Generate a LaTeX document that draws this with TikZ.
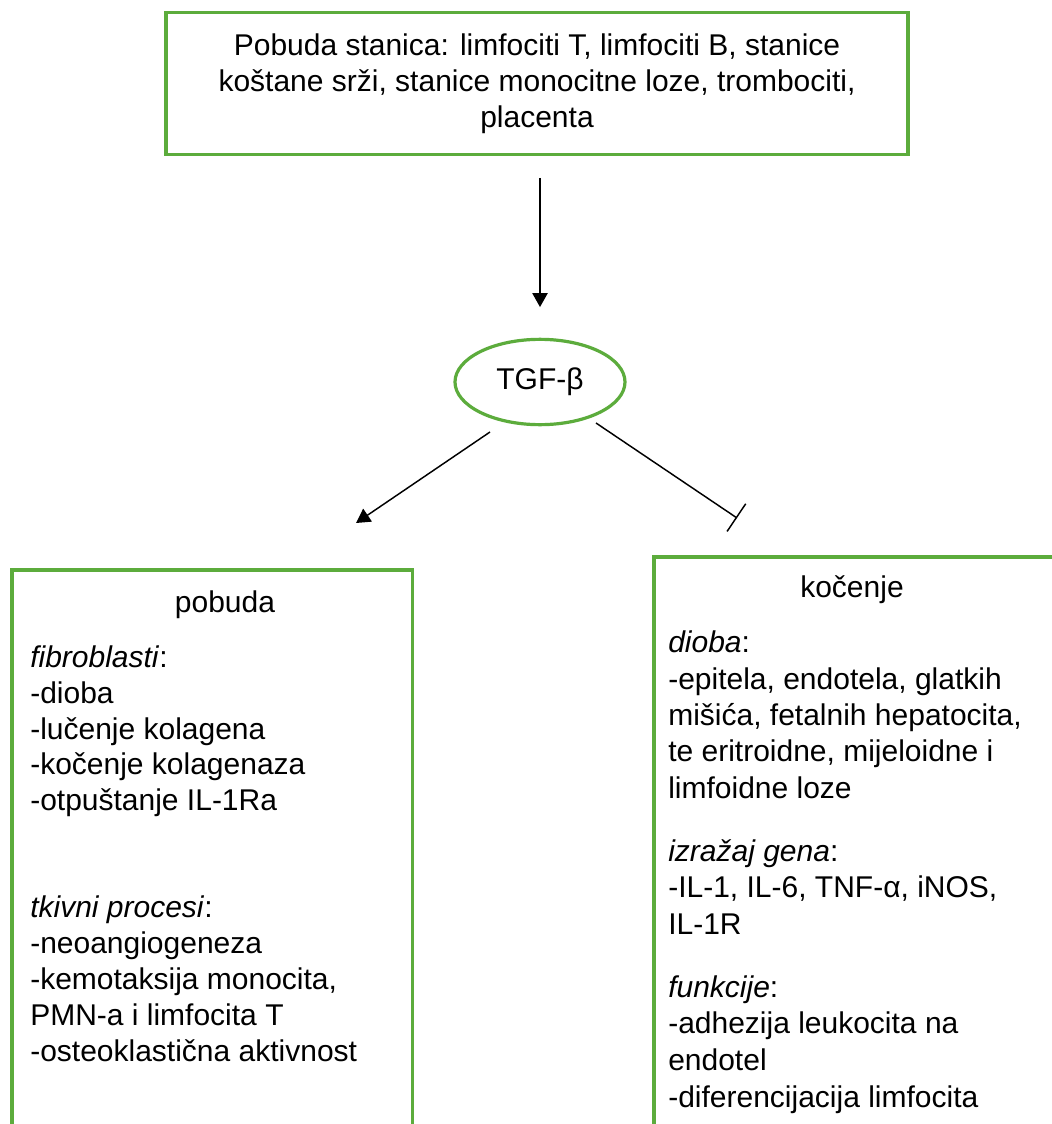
\documentclass[tikz,border=0pt]{standalone}
\usepackage{fontspec}
\setmainfont{Liberation Sans}
\usetikzlibrary{shapes.geometric,arrows.meta}
\definecolor{grn}{RGB}{92,172,60}
\begin{document}
\begin{tikzpicture}[x=0.75pt,y=-0.75pt,
  every node/.style={font=\fontsize{22.5}{27}\selectfont, inner sep=0pt, text=black},
  gline/.style={draw=grn, line width=2.4pt},
  ln/.style={anchor=mid west},
  arr/.style={line width=1.1pt, -{Triangle[length=10.5pt,width=11.5pt]}},
  inh/.style={line width=1.1pt, -{Bar[width=25pt,line width=1.1pt]}}]
\clip (0,0) rectangle (1052,1124);
\fill[white] (0,0) rectangle (1052,1124);
% top box
\node[gline, rectangle, minimum width=556.5pt, minimum height=107pt, align=center] (top) at (537,83.5)
  {Pobuda stanica: limfociti T, limfociti B, stanice\\ koštane srži, stanice monocitne loze, trombociti,\\ placenta};
% ellipse
\node[gline, ellipse, minimum width=127.5pt, minimum height=64pt] (tgf) at (540,382) {TGF-β};
% lower boxes (open at the bottom)
\node[rectangle, minimum width=300pt, minimum height=435pt, anchor=north west] (lbox) at (12,570) {};
\node[rectangle, minimum width=315pt, minimum height=450pt, anchor=north west] (rbox) at (654,557) {};
\draw[gline] (lbox.south west) -- (lbox.north west) -- (lbox.north east) -- (lbox.south east);
\draw[gline] (rbox.south west) -- (rbox.north west) -- (rbox.north east);
% titles
\node[anchor=mid] (pob) at (225,609) {pobuda};
\node[anchor=mid] (koc) at (852,594) {kočenje};
% left text
\foreach \y/\t [count=\i] in {664/{\textit{fibroblasti}:}, 700/{-dioba}, 736/{-lučenje kolagena},
  771/{-kočenje kolagenaza}, 807/{-otpuštanje IL-1Ra}, 914/{\textit{tkivni procesi}:},
  950/{-neoangiogeneza}, 986/{-kemotaksija monocita,}, 1022/{PMN-a i limfocita T},
  1058/{-osteoklastična aktivnost}}
  \node[ln] (L\i) at (30,\y) {\t};
% right text
\foreach \y/\t [count=\i] in {649/{\textit{dioba}:}, 686/{-epitela, endotela, glatkih},
  722/{mišića, fetalnih hepatocita,}, 758/{te eritroidne, mijeloidne i}, 795/{limfoidne loze},
  858/{\textit{izražaj gena}:}, 894/{-IL-1, IL-6, TNF-α, iNOS,}, 931/{IL-1R},
  994/{\textit{funkcije}:}, 1030/{-adhezija leukocita na}, 1067/{endotel},
  1104/{-diferencijacija limfocita}}
  \node[ln] (R\i) at (668,\y) {\t};
% connectors
\draw[arr, shorten <=16pt, shorten >=23pt] (top.south -| tgf.north) -- (tgf.north);
\coordinate (ls) at (490,432);
\coordinate (la) at (356,523);
\coordinate (rs) at (596,423);
\coordinate (ra) at (737,518);
\draw[arr] (ls) -- (la);
\draw[inh] (rs) -- (ra);
\end{tikzpicture}
\end{document}
